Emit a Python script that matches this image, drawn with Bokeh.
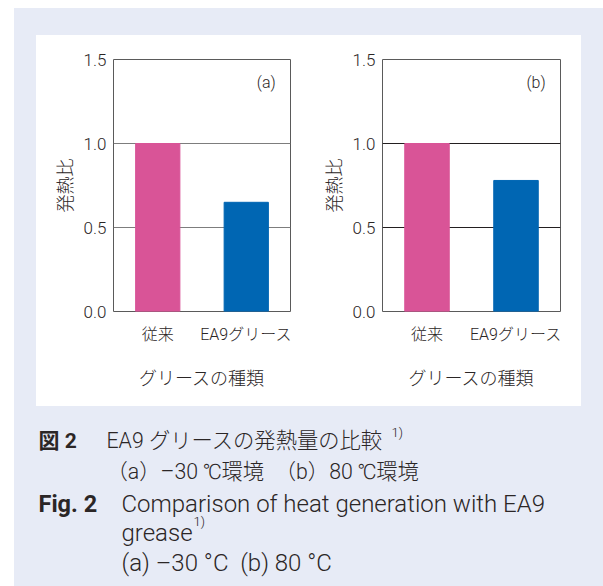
from bokeh.plotting import figure
from bokeh.models import FactorRange, Range1d, FixedTicker, PrintfTickFormatter
from bokeh.layouts import row, column
from bokeh.core.properties import value
from bokeh.embed import file_html
from bokeh.resources import INLINE

# ---- data ----
categories = ["従来", "EA9グリース"]
heat_ratio_a = [1.0, 0.65]   # (a) -30 ℃
heat_ratio_b = [1.0, 0.78]   # (b) 80 ℃
bar_colors = ["#d95497", "#0066b3"]
y_ticks = [0.0, 0.5, 1.0, 1.5]
grid_ticks = [0.5, 1.0]
y_label = "発熱比"
x_label = "グリースの種類"

BG = "#e7ebf6"
TXT = "#2b2626"
FONT = "Roboto, 'Noto Sans CJK JP'"
LFONT = "'Roboto Light', Roboto, 'Noto Sans CJK JP Light', 'Noto Sans CJK JP DemiLight', 'Noto Sans CJK JP'"
JFONT = "'Noto Sans CJK JP Light', 'Noto Sans CJK JP DemiLight', 'Noto Sans CJK JP'"


def make_chart(vals, tag, grid_color, bl, br, w):
    p = figure(x_range=FactorRange(factors=categories), y_range=Range1d(0, 1.5),
               width=w, height=371, output_backend="svg", toolbar_location=None,
               min_border_left=bl, min_border_right=br, min_border_top=24,
               min_border_bottom=95, background_fill_color="white",
               border_fill_color="white", outline_line_color="#5a5a5a",
               outline_line_width=1)
    p.vbar(x=categories, top=vals, width=0.5, color=bar_colors)
    p.text(x=[categories[1]], y=[1.365], text=[tag], x_offset=20,
           text_align="center", text_baseline="middle", text_font_size="16px",
           text_font=value(LFONT), text_color=TXT)
    p.yaxis.ticker = FixedTicker(ticks=y_ticks)
    p.yaxis.formatter = PrintfTickFormatter(format="%.1f")
    p.xgrid.visible = False
    p.ygrid.ticker = FixedTicker(ticks=grid_ticks)
    p.ygrid.grid_line_color = grid_color
    p.ygrid.grid_line_width = 1
    for ax in (p.xaxis, p.yaxis):
        ax.axis_line_color = None
        ax.major_tick_line_color = None
        ax.minor_tick_line_color = None
        ax.major_tick_out = 0
        ax.major_tick_in = 0
        ax.major_label_text_font = LFONT
        ax.major_label_text_font_size = "17px"
        ax.major_label_text_color = TXT
        ax.axis_label_text_font = JFONT
        ax.axis_label_text_font_size = "18px"
        ax.axis_label_text_font_style = "normal"
        ax.axis_label_text_color = TXT
    p.xaxis.major_label_text_font_size = "16px"
    p.yaxis.axis_label = y_label
    p.xaxis.axis_label = x_label
    p.yaxis.major_label_standoff = 7
    p.yaxis.axis_label_standoff = 4
    p.xaxis.major_label_standoff = 13
    p.xaxis.axis_label_standoff = 17
    return p


fa = make_chart(heat_ratio_a, "(a)", "#7d7d7d", 77, 25, 279)
fb = make_chart(heat_ratio_b, "(b)", "#231f20", 67, 21, 266)

# ---- caption ----
cap = figure(width=589, height=180, x_range=Range1d(0, 589), y_range=Range1d(180, 0),
             output_backend="svg", toolbar_location=None, min_border=0,
             background_fill_color=BG, border_fill_color=BG, outline_line_color=None)
cap.axis.visible = False
cap.grid.visible = False

X0, Y0 = 14, 414
jp_bold = ["図 2"]
jp_bold_xy = [(38, 448)]
jp_lines = ["EA9 グリースの発熱量の比較", "（a）–30 ℃環境　（b）80 ℃環境"]
jp_lines_xy = [(106, 448), (106, 479)]
en_bold = ["Fig. 2"]
en_bold_xy = [(38, 511)]
en_lines = ["Comparison of heat generation with EA9", "grease",
            "(a) –30 °C \u00a0(b) 80 °C"]
en_lines_xy = [(121, 511), (121, 540), (121, 570)]
sup = ["1)", "1)"]
sup_xy = [(391, 440), (193, 529)]


def put(texts, xy, size, style="normal", font=FONT):
    cap.text(x=[a - X0 for a, b in xy], y=[b - Y0 for a, b in xy], text=texts,
             text_font=value(font), text_font_style=style, text_font_size=size,
             text_color=TXT, text_baseline="alphabetic")


put(jp_bold, jp_bold_xy, "21px", "bold")
put(jp_lines, jp_lines_xy, "21.3px", font=LFONT)
put(en_bold, en_bold_xy, "23.5px", "bold")
put(en_lines, en_lines_xy, "24px", font=LFONT)
put(sup, sup_xy, "13px", font=LFONT)

charts = row(fa, fb, margin=(27, 22, 0, 22), styles={"background-color": "white"})
layout = column(charts, cap, margin=(8, 0, 0, 14), styles={"background-color": BG})

open("out.html", "w").write(file_html(layout, INLINE))
